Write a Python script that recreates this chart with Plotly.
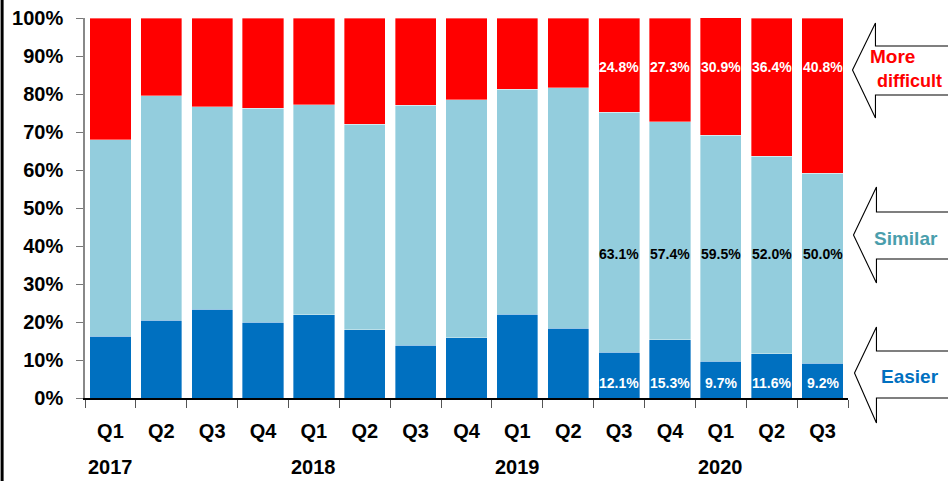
import plotly.graph_objects as go

quarters = ["Q1", "Q2", "Q3", "Q4", "Q1", "Q2", "Q3", "Q4", "Q1", "Q2", "Q3", "Q4", "Q1", "Q2", "Q3"]
years = ["2017", "2017", "2017", "2017", "2018", "2018", "2018", "2018",
         "2019", "2019", "2019", "2019", "2020", "2020", "2020"]
categories = [f"{y} {q}" for y, q in zip(years, quarters)]

easier = [16.3, 20.5, 23.4, 20.0, 21.9, 17.9, 13.9, 15.8, 22.1, 18.4, 12.1, 15.3, 9.7, 11.6, 9.2]
similar = [51.7, 59.0, 53.3, 56.3, 55.3, 54.1, 63.1, 62.7, 59.2, 63.2, 63.1, 57.4, 59.5, 52.0, 50.0]
difficult = [32.0, 20.5, 23.3, 23.7, 22.8, 28.0, 23.0, 21.5, 18.7, 18.4, 24.8, 27.3, 30.9, 36.4, 40.8]
labeled_from = 10  # labels shown for Q3 2019 onward

FONT = "Liberation Sans, Arial, sans-serif"
C_EASY = "#0070C0"
C_SIM = "#93CDDD"
C_DIFF = "#FF0000"
C_SIM_TEXT = "#4A9EAC"

# plot area in pixels
L, R, T, B = 84.5, 848.5, 18.0, 398.0
W, H = 948, 481


def px(x):
    return (x - L) / (R - L)


def py(y):
    return (B - y) / (B - T)


fig = go.Figure()
edge = dict(width=0.6, color="rgba(255,255,255,0.6)")
fig.add_trace(go.Bar(x=categories, y=easier, marker=dict(color=C_EASY, line=edge), name="Easier"))
fig.add_trace(go.Bar(x=categories, y=similar, marker=dict(color=C_SIM, line=edge), name="Similar"))
fig.add_trace(go.Bar(x=categories, y=difficult, marker=dict(color=C_DIFF, line=edge), name="More difficult"))

annotations = []
for i in range(labeled_from, len(categories)):
    for val, ypos, col in ((difficult[i], 87, "white"), (similar[i], 38, "black"), (easier[i], 4, "white")):
        annotations.append(dict(x=categories[i], y=ypos, xref="x", yref="y", text=f"{val:.1f}%",
                                showarrow=False, font=dict(family=FONT, size=14, color=col, weight=700)))

# year labels under Q1 of each year
for i, (y, q) in enumerate(zip(years, quarters)):
    if q == "Q1":
        annotations.append(dict(x=categories[i], y=py(467), xref="x", yref="paper", text=y,
                                showarrow=False, yanchor="middle",
                                font=dict(family=FONT, size=20, color="black", weight=700)))

# arrow labels
annotations += [
    dict(x=px(869), y=py(57), xref="paper", yref="paper", text="More", xanchor="left", yanchor="middle",
         showarrow=False, font=dict(family=FONT, size=19, color=C_DIFF, weight=700)),
    dict(x=px(876), y=py(81), xref="paper", yref="paper", text="difficult", xanchor="left", yanchor="middle",
         showarrow=False, font=dict(family=FONT, size=18, color=C_DIFF, weight=700)),
    dict(x=px(907), y=py(238), xref="paper", yref="paper", text="Similar", xanchor="center", yanchor="middle",
         showarrow=False, font=dict(family=FONT, size=19, color=C_SIM_TEXT, weight=700)),
    dict(x=px(911), y=py(376), xref="paper", yref="paper", text="Easier", xanchor="center", yanchor="middle",
         showarrow=False, font=dict(family=FONT, size=19, color=C_EASY, weight=700)),
]


def arrow(tip_x, tip_y, head_x, head_top, head_bot, sh_top, sh_bot, end_x=970):
    pts = [(tip_x, tip_y), (head_x, head_top), (head_x, sh_top), (end_x, sh_top),
           (end_x, sh_bot), (head_x, sh_bot), (head_x, head_bot)]
    path = "M " + " L ".join(f"{px(a):.5f},{py(b):.5f}" for a, b in pts) + " Z"
    return dict(type="path", path=path, xref="paper", yref="paper",
                line=dict(color="black", width=1.1), fillcolor="white", layer="above")


shapes = [
    arrow(853, 70, 876, 23, 118, 46, 95),
    arrow(854, 235, 877, 187, 283, 212, 259),
    arrow(855, 373, 877, 327, 423, 351, 398),
    dict(type="line", xref="paper", yref="paper", x0=px(1.5), x1=px(1.5), y0=py(-5), y1=py(490),
         line=dict(color="black", width=3)),
]

fig.update_layout(
    barmode="stack",
    bargap=0.19,
    width=W, height=H,
    margin=dict(l=L, r=W - R, t=T, b=H - B, pad=0, autoexpand=False),
    paper_bgcolor="white", plot_bgcolor="white",
    showlegend=False,
    annotations=annotations,
    shapes=shapes,
    font=dict(family=FONT, color="black"),
)
fig.update_xaxes(
    type="category", tickmode="array", tickvals=categories, ticktext=quarters,
    tickson="boundaries", ticks="outside", ticklen=8, tickcolor="#555555", tickwidth=1,
    showline=True, linecolor="black", linewidth=1.5, automargin=False,
    tickfont=dict(family=FONT, size=20, color="black", weight=700),
    ticklabelstandoff=14, showgrid=False,
)
fig.update_yaxes(
    range=[0, 100], dtick=10, ticksuffix="%", ticks="outside", ticklen=7,
    tickcolor="#777777", showline=True, linecolor="#888888", linewidth=1.5, automargin=False,
    tickfont=dict(family=FONT, size=20, color="black", weight=700),
    ticklabelstandoff=9, showgrid=False, zeroline=False,
)

fig.write_html(
    "out.html",
    config={"displayModeBar": False},
    post_script="document.body.style.margin='0';document.body.style.overflow='hidden';"
                "document.documentElement.style.overflow='hidden';",
)
